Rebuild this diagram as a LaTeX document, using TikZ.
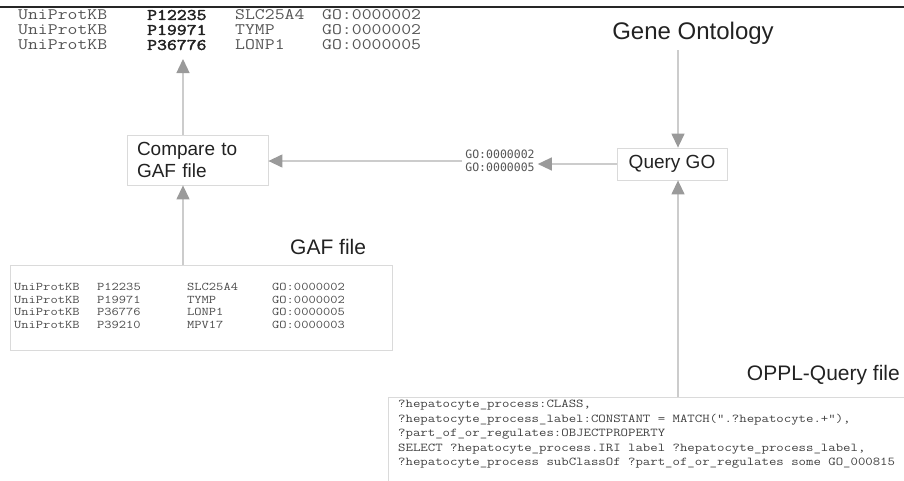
\documentclass[tikz,border=0pt]{standalone}
\usepackage{fontspec}
\setmainfont{Liberation Sans}
\newfontfamily\courierlike[FakeStretch=1.2, BoldFont={Latin Modern Mono}, BoldFeatures={FakeBold=2.5}]{Latin Modern Mono}
\newfontfamily\golistfont{DejaVu Sans Mono}
\usetikzlibrary{arrows.meta}

\definecolor{shaftgray}{HTML}{CCCCCC}
\definecolor{headgray}{HTML}{9A9A9A}
\definecolor{boxgray}{HTML}{DADADA}
\definecolor{labelgray}{HTML}{222222}
\definecolor{monogray}{HTML}{555555}

\tikzset{
  flow/.style={draw=shaftgray, line width=1.3pt, -{Triangle[length=14pt,width=13pt,color=headgray]}},
  procbox/.style={draw=boxgray, line width=0.8pt, fill=white, text=labelgray, font=\fontsize{19}{22}\selectfont},
  filelabel/.style={text=labelgray, inner sep=0pt, font=\fontsize{21}{24}\selectfont},
  hitcol/.style={anchor=west, align=left, inner sep=0pt, text=monogray, font=\courierlike\fontsize{16}{15}\selectfont},
  gafcol/.style={anchor=west, align=left, inner sep=0pt, text=black!70, font=\courierlike\fontsize{11.75}{12.7}\selectfont},
}

\begin{document}
\begin{tikzpicture}[x=1pt, y=-1pt]
    \useasboundingbox (0,0) rectangle (904,480);
    \clip (0,0) rectangle (904,480);
    \draw[line width=1.5pt, black!85] (0,7) -- (904,7);

    % matched proteins
    \node[hitcol] (hitdb) at (18, 30) {UniProtKB\\UniProtKB\\UniProtKB};
    \node[hitcol, text=labelgray] (hitid) at (147, 30) {\bfseries P12235\\\bfseries P19971\\\bfseries P36776};
    \node[hitcol] (hitsym) at (235, 30) {SLC25A4\\TYMP\\LONP1};
    \node[hitcol] (hitgo) at (322, 30) {GO:0000002\\GO:0000002\\GO:0000005};
    \coordinate (hits) at (183, 59);
    \coordinate (gx) at (183, 0);
    \coordinate (qx) at (678, 0);

    \node[procbox, minimum width=141, minimum height=50, text width=121, align=left, inner xsep=10pt] (compare) at (197.5, 160) {Compare to\\GAF file};
    \node[procbox, minimum width=110, minimum height=32] (query) at (672, 164) {Query GO};
    \node[text=monogray, inner xsep=3pt, inner ysep=0pt, align=left, font=\golistfont\fontsize{11.5}{13}\selectfont] (golist) at (500, 161) {GO:0000002\\GO:0000005};

    \node[filelabel, font=\fontsize{24}{27}\selectfont] (gene) at (693, 33) {Gene Ontology};
    \node[filelabel, anchor=west] (gaflabel) at (290, 247) {GAF file};
    \node[filelabel, anchor=east] (oppllabel) at (900, 375) {OPPL-Query file};

    % GAF file
    \node[draw=boxgray, line width=0.8pt, anchor=north west, minimum width=382, minimum height=85] (gaf) at (10, 265) {};
    \node[gafcol] (gafdb) at (14, 306) {UniProtKB\\UniProtKB\\UniProtKB\\UniProtKB};
    \node[gafcol] (gafid) at (97, 306) {P12235\\P19971\\P36776\\P39210};
    \node[gafcol] (gafsym) at (187, 306) {SLC25A4\\TYMP\\LONP1\\MPV17};
    \node[gafcol] (gafgo) at (272, 306) {GO:0000002\\GO:0000002\\GO:0000005\\GO:0000003};

    % OPPL query
    \node[draw=boxgray, line width=0.8pt, anchor=north west, minimum width=600, minimum height=150] (oppl) at (388, 397) {};
    \node[anchor=north west, align=left, inner sep=0pt, text=black!75, font=\courierlike\fontsize{12}{14.5}\selectfont] (oppltext) at (398, 400)
      {?hepatocyte\_process:CLASS,\\
       ?hepatocyte\_process\_label:CONSTANT = MATCH(".?hepatocyte.+"),\\
       ?part\_of\_or\_regulates:OBJECTPROPERTY\\
       SELECT ?hepatocyte\_process.IRI label ?hepatocyte\_process\_label,\\
       ?hepatocyte\_process subClassOf ?part\_of\_or\_regulates some GO\_000815};

    \draw[flow] (gene.south -| qx) ++(0,6) -- (query.north -| qx);
    \draw[flow] (oppl.north -| qx) -- (query.south -| qx);
    \draw[flow] (query.west) -- (query.west -| golist.east);
    \draw[flow] (golist.west) -- (golist.west -| compare.east);
    \draw[flow] (gaf.north -| gx) -- (compare.south -| gx);
    \draw[flow] (compare.north -| gx) -- (hits);
\end{tikzpicture}
\end{document}
